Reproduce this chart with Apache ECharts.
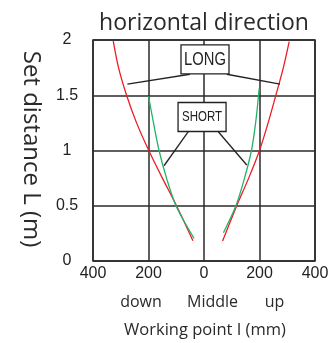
<!DOCTYPE html>
<html>
<head>
<meta charset="utf-8">
<script src="https://cdn.jsdelivr.net/npm/echarts@6/dist/echarts.min.js"></script>
<style>html,body{margin:0;padding:0;background:#fff}#c{width:332px;height:343px}</style>
</head>
<body>
<div id="c"></div>
<script>
// Data (x = working point in mm, negative = down side; y = set distance in m)
const longLeftX  = [-327, -308, -279, -243, -199, -150, -99, -40];
const longLeftY  = [1.99, 1.75, 1.5, 1.25, 1.0, 0.75, 0.5, 0.184];
const longRightX = [307, 286, 259, 231, 200, 161, 118, 67];
const longRightY = [1.985, 1.75, 1.5, 1.25, 1.0, 0.75, 0.5, 0.181];
const shortLeftX  = [-200, -182, -162, -135, -101, -36];
const shortLeftY  = [1.493, 1.25, 1.0, 0.75, 0.5, 0.205];
const shortRightX = [199, 186, 171, 146, 115, 70];
const shortRightY = [1.563, 1.25, 1.0, 0.75, 0.5, 0.256];
const xTicks = [-400, -200, 0, 200, 400];
const yTicks = [0, 0.5, 1, 1.5, 2];
const boxLabels = ['LONG', 'SHORT'];
const sideLabels = ['down', 'Middle', 'up'];

// annotation anchors (data coordinates)
const longBox = [3.6, 1.824];
const shortBox = [-7, 1.303];
const longLeaders = [[[-50.5, 1.69], [-276, 1.60]], [[82, 1.69], [274, 1.60]]];
const shortLeaders = [[[-56.6, 1.17], [-144, 0.862]], [[51.5, 1.17], [154, 0.869]]];

const zip = (xs, ys) => xs.map((x, i) => [x, ys[i]]);
const RED = '#ee1c25', GREEN = '#22b36a', INK = '#222';
const LAB = '"Liberation Sans", Arial, sans-serif';
const SANS = '"Open Sans", "Noto Sans", sans-serif';

const chart = echarts.init(document.getElementById('c'), null, {renderer: 'canvas'});

function lineSeries(data, color, extra) {
  return Object.assign({
    type: 'line', data: data, showSymbol: false, smooth: 0.3,
    lineStyle: {color: color, width: 1.3}, itemStyle: {color: color},
    silent: true, z: 3, animation: false
  }, extra || {});
}

const leaderData = longLeaders.concat(shortLeaders).map(p => [{coord: p[0]}, {coord: p[1]}]);

chart.setOption({
  animation: false,
  grid: {left: 93, right: 17, top: 40, bottom: 82, show: true, borderColor: '#2a2a2a', borderWidth: 1.5, backgroundColor: 'transparent'},
  xAxis: {
    type: 'value', min: xTicks[0], max: xTicks[xTicks.length - 1], interval: 200,
    axisLine: {show: false}, axisTick: {show: false},
    splitLine: {show: true, lineStyle: {color: '#2a2a2a', width: 1.5}},
    axisLabel: {margin: 5, fontSize: 16, fontFamily: LAB, color: INK, formatter: v => String(Math.abs(v)), showMinLabel: true, showMaxLabel: true}
  },
  yAxis: {
    type: 'value', min: yTicks[0], max: yTicks[yTicks.length - 1], interval: 0.5,
    axisLine: {show: false}, axisTick: {show: false},
    splitLine: {show: true, lineStyle: {color: '#2a2a2a', width: 1.5}},
    axisLabel: {margin: 26, align: 'center', fontSize: 16, fontFamily: LAB, color: INK, formatter: v => String(v)}
  },
  series: [
    lineSeries(zip(longLeftX, longLeftY), RED, {
      markLine: {
        silent: true, symbol: ['none', 'none'], animation: false,
        lineStyle: {color: INK, width: 1.3, type: 'solid'},
        label: {show: false}, emphasis: {disabled: true},
        data: leaderData
      }
    }),
    lineSeries(zip(longRightX, longRightY), RED),
    lineSeries(zip(shortLeftX, shortLeftY), GREEN),
    lineSeries(zip(shortRightX, shortRightY), GREEN)
  ]
});

// annotation boxes, positioned through the grid's coordinate system
function box(id, coord, label, fontPx) {
  const p = chart.convertToPixel({gridIndex: 0}, coord);
  return {
    type: 'group', id: id, x: p[0], y: p[1], z: 100,
    children: [
      {type: 'rect', z: 100, shape: {x: -24, y: -14.5, width: 48, height: 29},
       style: {fill: '#fff', stroke: INK, lineWidth: 1.3}},
      {type: 'text', z: 101, x: 0, y: 0.5, scaleX: 0.82,
       style: {text: label, font: fontPx + 'px ' + LAB, fill: INK, align: 'center', verticalAlign: 'middle'}}
    ]
  };
}
function txt(id, x, y, text, font, rot) {
  return {type: 'text', id: id, x: x, y: y, rotation: rot || 0, z: 100,
    style: {text: text, font: font, fill: '#2a2a2a', align: 'center', verticalAlign: 'middle'}};
}
chart.setOption({graphic: [
  txt('title', 204, 23, 'horizontal direction', '23px ' + SANS),
  txt('yname', 31, 149, 'Set distance L (m)', '24px ' + SANS, -Math.PI / 2),
  txt('side0', 141, 302, sideLabels[0], '16px ' + SANS),
  txt('side1', 212.5, 302, sideLabels[1], '16px ' + SANS),
  txt('side2', 274.5, 302, sideLabels[2], '16px ' + SANS),
  txt('xname', 205, 330, 'Working point I (mm)', '16.5px ' + SANS),
  box('longBox', longBox, boxLabels[0], 18),
  box('shortBox', shortBox, boxLabels[1], 14)
]});
</script>
</body>
</html>
